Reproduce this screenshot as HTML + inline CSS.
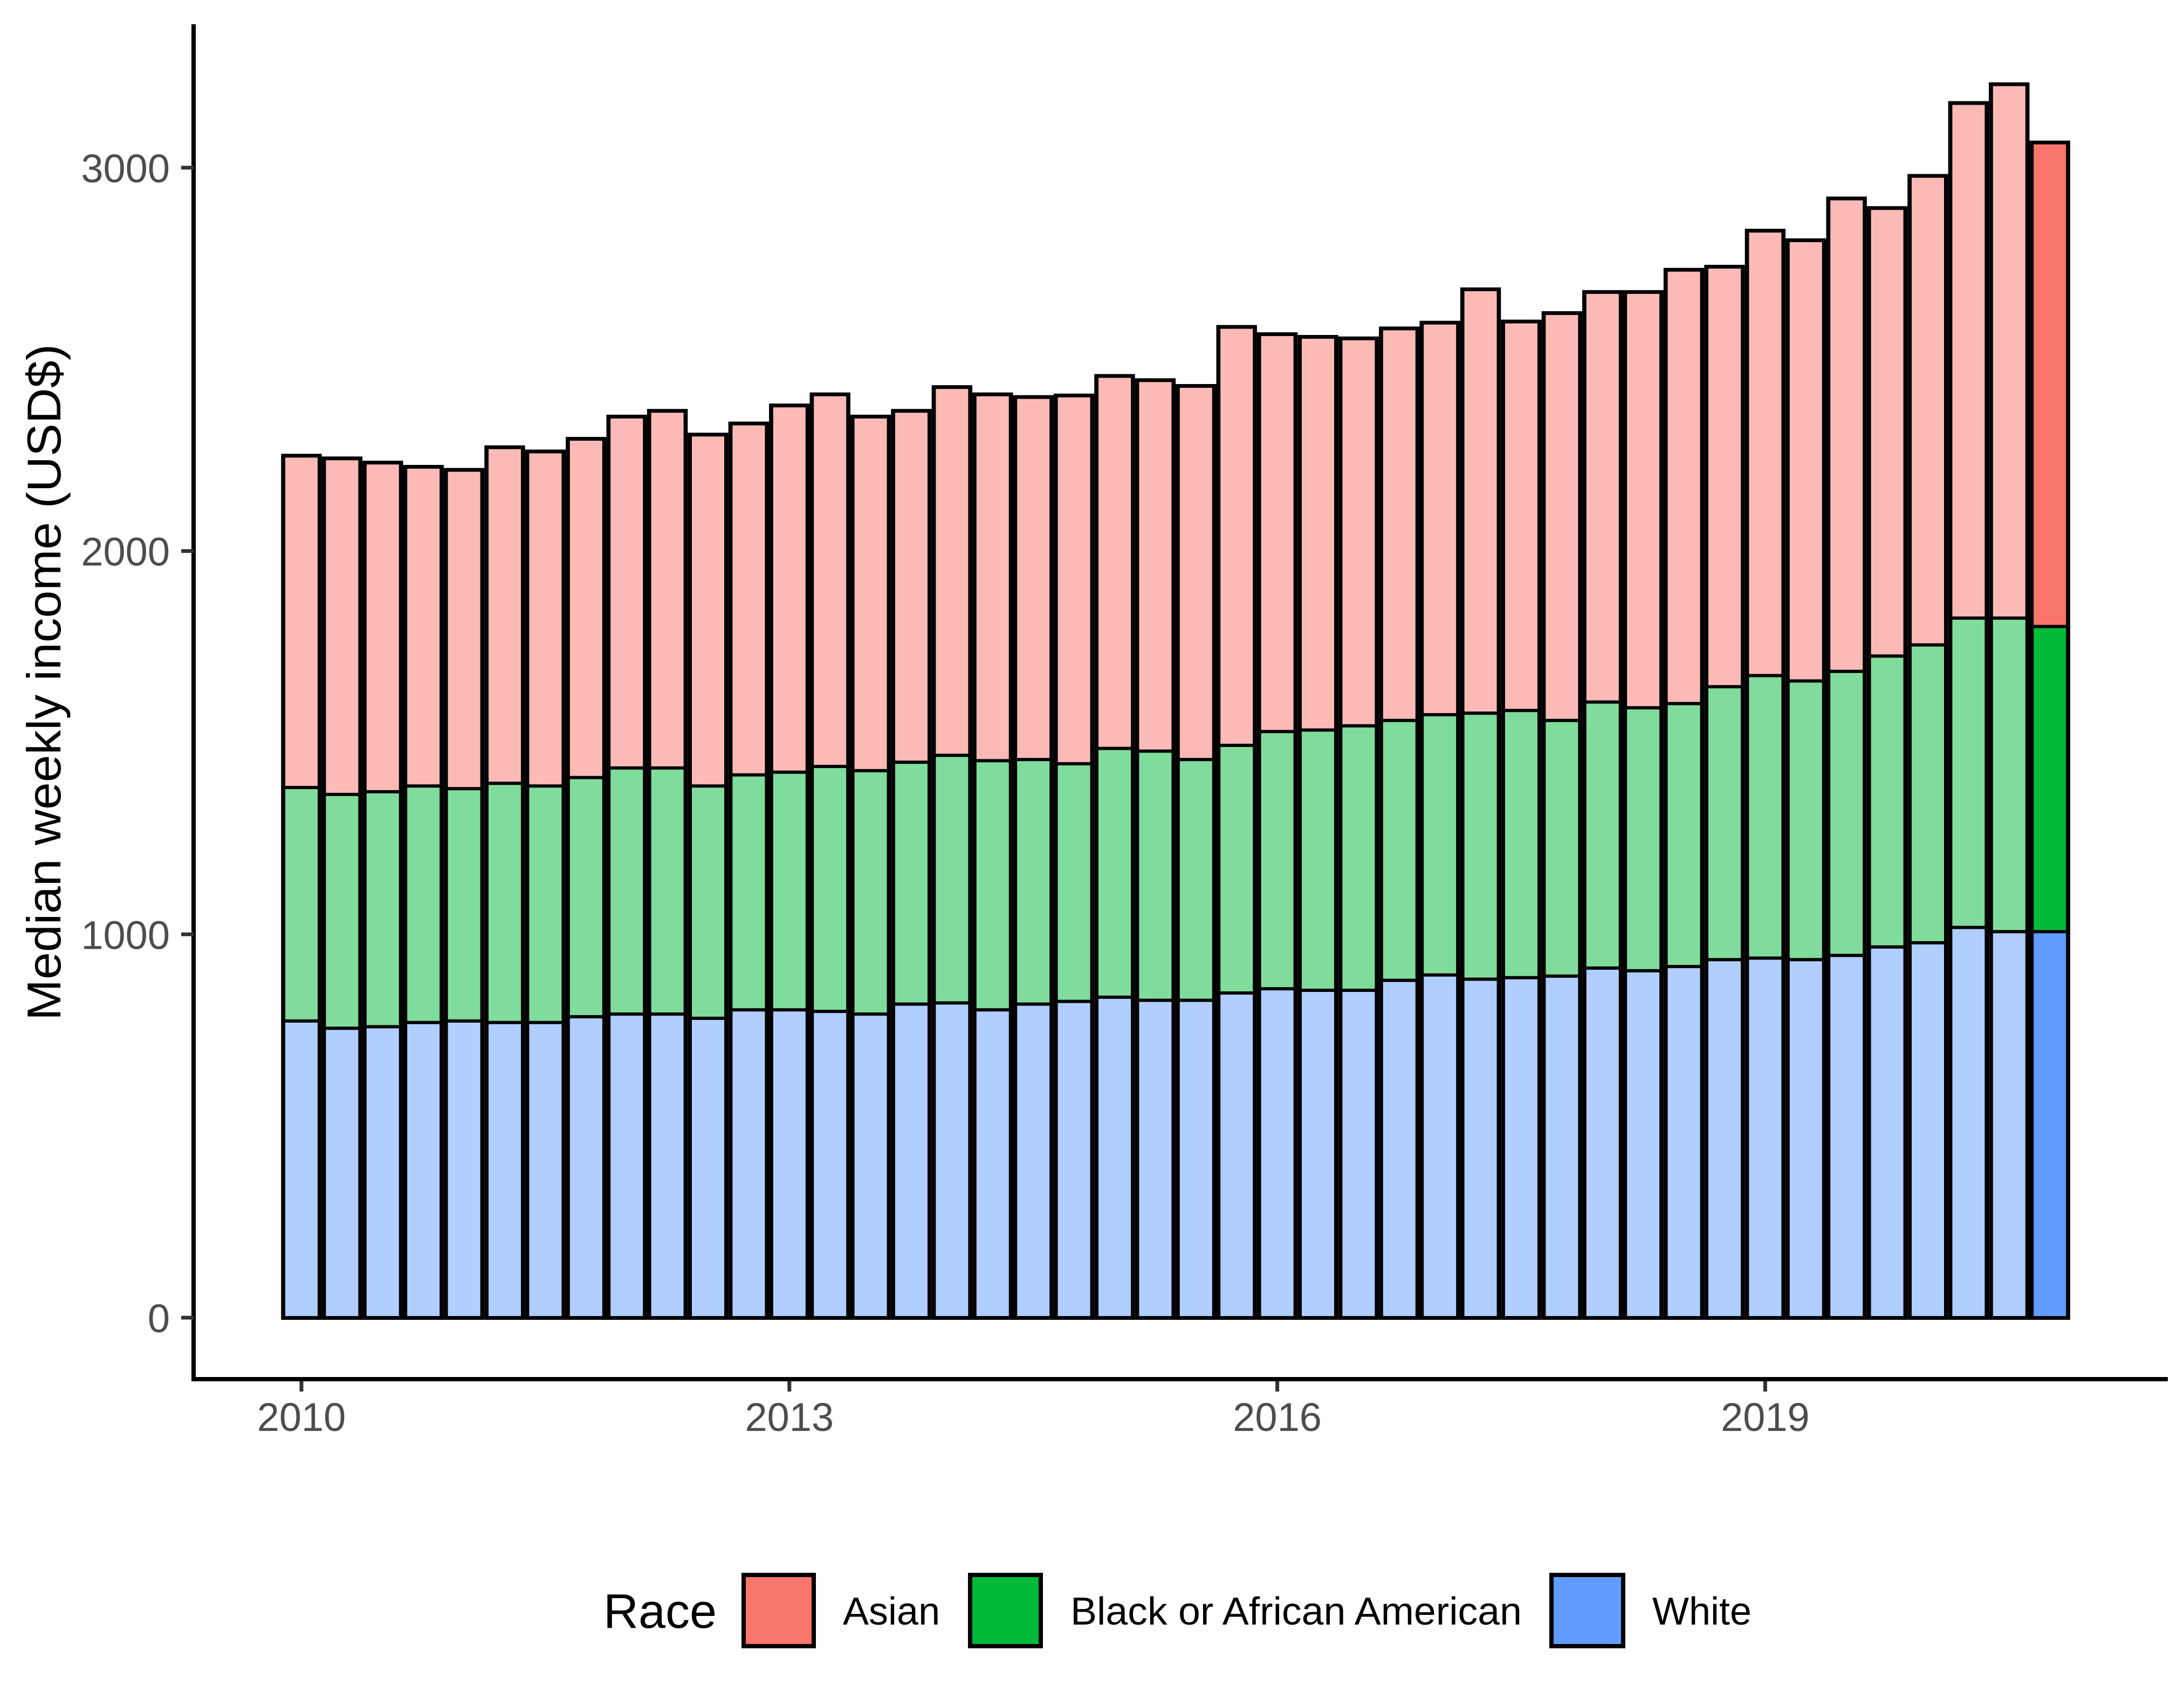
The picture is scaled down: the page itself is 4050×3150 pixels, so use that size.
<!DOCTYPE html>
<html><head><meta charset="utf-8"><style>
html,body{margin:0;padding:0;background:#fff}
svg{display:block}
text{font-family:"Liberation Sans",sans-serif}
</style></head><body>
<svg id="chart" width="4050" height="3150" viewBox="0 0 4050 3150" xmlns="http://www.w3.org/2000/svg">
<rect width="4050" height="3150" fill="#fff"/>
<g id="bars"></g>
<g id="axes"></g>
<text transform="translate(112,1265) rotate(-90)" text-anchor="middle" font-size="88" fill="#000" textLength="1254" lengthAdjust="spacingAndGlyphs">Median weekly income (USD$)</text>
<g>
<text x="1119" y="3018" font-size="90" fill="#000">Race</text>
<g>
<rect x="1379" y="2920" width="130" height="132" fill="#F8766D" stroke="#000" stroke-width="8"/>
<text x="1563" y="3012" font-size="72" fill="#000">Asian</text></g>
<g>
<rect x="1799" y="2920" width="131" height="132" fill="#00BA38" stroke="#000" stroke-width="8"/>
<text x="1985" y="3012" font-size="72" fill="#000" textLength="837" lengthAdjust="spacingAndGlyphs">Black or African American</text></g>
<g>
<rect x="2877" y="2920" width="133" height="132" fill="#619CFF" stroke="#000" stroke-width="8"/>
<text x="3064" y="3012" font-size="72" fill="#000">White</text></g>
</g>
</svg>
<script>
// Quarterly periods 2010Q1 .. 2020Q4
const periods = [];
for (let y = 2010; y <= 2020; y++) for (let q = 0; q < 4; q++) periods.push(y + q * 0.25);
const whiteVals = [774,755,759,770,774,770,770,785,792,792,781,803,803,799,792,818,821,803,818,825,836,828,828,847,858,854,854,880,894,883,887,891,912,905,916,934,938,934,945,967,978,1018,1007,1007];
const blackVals = [609,610,613,617,606,624,617,624,642,642,606,613,620,639,635,631,646,650,638,620,649,650,628,646,671,679,690,678,679,694,697,667,694,686,686,712,737,727,741,759,777,807,818,796];
const asianVals = [865,876,858,832,831,876,872,883,916,931,916,916,956,970,923,916,960,955,945,960,971,967,974,1091,1036,1025,1010,1022,1022,1105,1014,1062,1069,1084,1131,1095,1160,1149,1233,1168,1223,1343,1392,1262];
const yTicks = [0,1000,2000,3000];
const xTicks = [2010,2013,2016,2019];

const NS = "http://www.w3.org/2000/svg";
const x0 = 559, stride = 75.4;
function xScale(t){ return x0 + (t - 2010) * 4 * stride; }
function yScale(v){ return 2443 - v * 0.7107; }
function mk(tag, attrs, parent){ const e = document.createElementNS(NS, tag); for (const k in attrs) e.setAttribute(k, attrs[k]); parent.appendChild(e); return e; }

const bars = document.getElementById('bars');
const last = periods.length - 1;
periods.forEach((p, i) => {
  const c = xScale(p);
  const w = whiteVals[i], b = blackVals[i], a = asianVals[i];
  const hl = i === last;
  const g = mk('g', {}, bars);
  
  
  const top = yScale(w + b + a), base = yScale(0);
  mk('rect', {x: c - 37.7, y: top - 4, width: 75.4, height: base - top + 8, fill: '#000'}, g);
  const segs = [
    [0, w, hl ? '#619CFF' : '#B0CEFF', 'white'],
    [w, w + b, hl ? '#00BA38' : '#80DC9C', 'black'],
    [w + b, w + b + a, hl ? '#F8766D' : '#FBBAB6', 'asian']
  ];
  segs.forEach(s => {
    const y1 = yScale(s[1]), y2 = yScale(s[0]);
    const r = mk('rect', {x: c - 30, y: y1 + 3, width: 60, height: Math.max(0, y2 - y1 - 6), fill: s[2]}, g);
    
    
  });
});

const axes = document.getElementById('axes');
const yl = mk('line', {x1: 359, y1: 45, x2: 359, y2: 2561, stroke: '#000', 'stroke-width': 8}, axes);


const xl = mk('line', {x1: 355, y1: 2557, x2: 4020, y2: 2557, stroke: '#000', 'stroke-width': 8}, axes);


yTicks.forEach(v => {
  const y = yScale(v);
  const t = mk('line', {x1: 336, y1: y, x2: 359, y2: y, stroke: '#333', 'stroke-width': 7}, axes);
  
  
  const l = mk('text', {x: 315, y: y + 27, 'text-anchor': 'end', 'font-size': 74, fill: '#4d4d4d'}, axes);
  l.textContent = v;
  
  
});
xTicks.forEach(v => {
  const x = xScale(v);
  const t = mk('line', {x1: x, y1: 2561, x2: x, y2: 2580, stroke: '#333', 'stroke-width': 7}, axes);
  
  
  const l = mk('text', {x: x, y: 2653, 'text-anchor': 'middle', 'font-size': 74, fill: '#4d4d4d'}, axes);
  l.textContent = v;
  
  
});
</script>
</body></html>
